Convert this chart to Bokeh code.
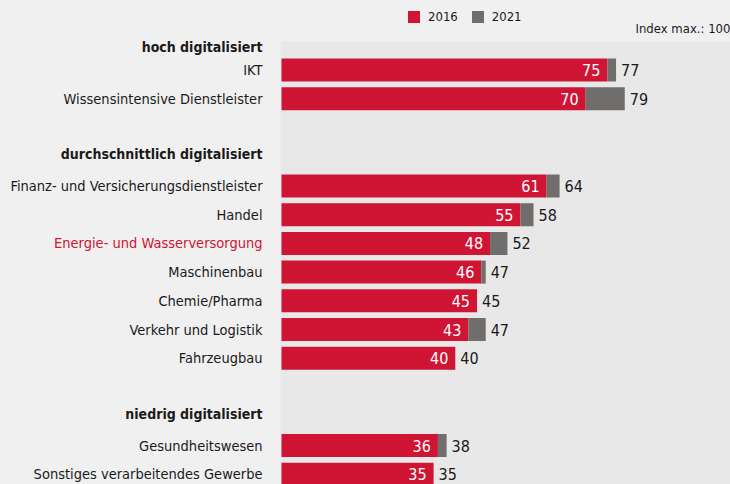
from bokeh.plotting import figure
from bokeh.models import ColumnDataSource, Range1d, Legend, LegendItem
from bokeh.embed import file_html
from bokeh.resources import INLINE
from bokeh.core.properties import value

# ---- data ----
categories = [
    "IKT", "Wissensintensive Dienstleister",
    "Finanz- und Versicherungsdienstleister", "Handel",
    "Energie- und Wasserversorgung", "Maschinenbau", "Chemie/Pharma",
    "Verkehr und Logistik", "Fahrzeugbau",
    "Gesundheitswesen", "Sonstiges verarbeitendes Gewerbe",
]
group_names = ["hoch digitalisiert", "durchschnittlich digitalisiert", "niedrig digitalisiert"]
group_of = [0, 0, 1, 1, 1, 1, 1, 1, 1, 2, 2]
v2016 = [75, 70, 61, 55, 48, 46, 45, 43, 40, 36, 35]
v2021 = [77, 79, 64, 58, 52, 47, 45, 47, 40, 38, 35]
series = ["2016", "2021"]
highlight = "Energie- und Wasserversorgung"
index_note = "Index max.: 100"

# ---- layout / style ----
W, H = 730, 484
PX_PER_UNIT = 4.345
X0_PX = 281
ROW = 28.7
GAP = 58.6
FIRST = 69.5
BAR_H = 23
HEADER_OFF = [23.5, 32.5, 31.5]
PANEL_TOP = 41
LABEL_RIGHT_PX = 262

RED = "#cf1434"
GREY = "#6f6e6c"
PAGE = "#f0f0f0"
PANEL = "#e8e8e8"
INK = "#1a1a1a"
FONT = "DejaVu Sans Condensed, Roboto, sans-serif"


def xdata(px):
    return (px - X0_PX) / PX_PER_UNIT


y_items = [FIRST + i * ROW + g * GAP for i, g in enumerate(group_of)]
header_y = []
for g in range(len(group_names)):
    first = group_of.index(g)
    header_y.append(y_items[first] - HEADER_OFF[g])

src = ColumnDataSource(dict(
    y=y_items, cat=categories, v2016=v2016, v2021=v2021,
    t16=[str(v) for v in v2016], t21=[str(v) for v in v2021],
    color=[RED if c == highlight else INK for c in categories],
))
hsrc = ColumnDataSource(dict(y=header_y, text=group_names))

p = figure(width=W, height=H, x_range=Range1d(xdata(0), xdata(W)),
           y_range=Range1d(H, 0), output_backend="svg", toolbar_location=None,
           min_border=0, background_fill_color=PAGE, border_fill_color=PAGE,
           outline_line_color=None, x_axis_location=None, y_axis_location=None)
p.grid.visible = False

p.quad(left=xdata(280), right=xdata(W), top=PANEL_TOP, bottom=H,
       fill_color=PANEL, line_color=None)

r16 = p.hbar(y="y", left=0, right="v2016", height=BAR_H, source=src,
             fill_color=RED, line_color=None)
r21 = p.hbar(y="y", left="v2016", right="v2021", height=BAR_H, source=src,
             fill_color=GREY, line_color=None)

p.text(x=xdata(LABEL_RIGHT_PX), y="y", text="cat", source=src,
       text_align="right", text_baseline="middle", text_font=value(FONT),
       text_font_size="14.5px", text_color="color")
p.text(x=xdata(LABEL_RIGHT_PX), y="y", text="text", source=hsrc,
       text_align="right", text_baseline="middle", text_font=value(FONT),
       text_font_size="14px", text_font_style="bold", text_color=INK)

p.text(x="v2016", y="y", text="t16", source=src, x_offset=-7,
       text_align="right", text_baseline="middle", text_font=value(FONT),
       text_font_size="16px", text_color="white")
p.text(x="v2021", y="y", text="t21", source=src, x_offset=5,
       text_align="left", text_baseline="middle", text_font=value(FONT),
       text_font_size="16px", text_color=INK)

p.text(x=[xdata(W)], y=[28], text=[index_note], text_align="right",
       text_baseline="middle", text_font=value(FONT), text_font_size="13px",
       text_color=INK)

legend = Legend(items=[LegendItem(label=series[0], renderers=[r16]),
                       LegendItem(label=series[1], renderers=[r21])],
                orientation="horizontal", location=(406, H - 24),
                glyph_width=15, glyph_height=15, label_standoff=7, spacing=12,
                padding=0, margin=0, background_fill_alpha=0,
                border_line_alpha=0, label_text_font=FONT,
                label_text_font_size="13px", label_text_color=INK,
                label_height=15)
p.add_layout(legend)

template = """{% block postamble %}<style>html, body { margin: 0; padding: 0; background: #f0f0f0; overflow: hidden; }</style>{% endblock %}"""

open("out.html", "w").write(file_html(p, INLINE, template=template))
